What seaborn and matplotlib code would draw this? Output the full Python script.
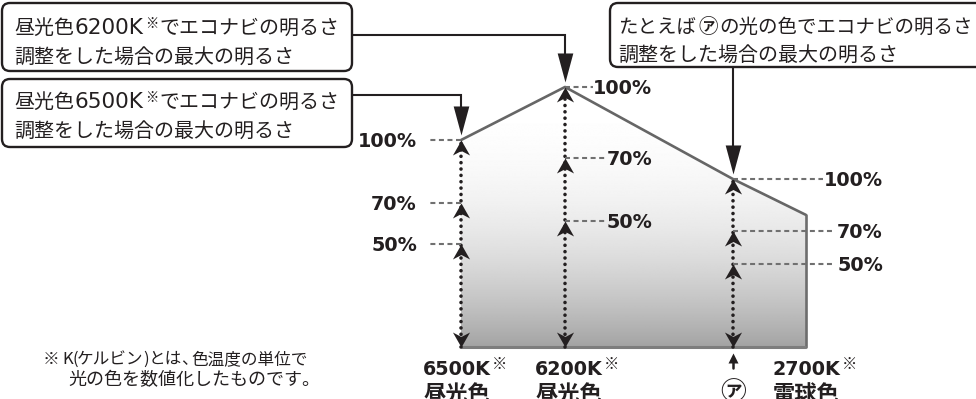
import numpy as np
import pandas as pd
import seaborn as sns
import matplotlib
matplotlib.use("Agg")
import matplotlib.pyplot as plt
from matplotlib.path import Path
from matplotlib.patches import FancyBboxPatch, Polygon
from matplotlib.transforms import Affine2D

# ---------------- data ----------------
columns = ["6500K", "6200K", "ア", "2700K"]
col_names = ["昼光色", "昼光色", "", "電球色"]
col_pos = [0.0, 1.0, 2.615, 3.317]          # schematic colour-temperature axis
max_bright = [79.6, 100.0, 64.6, 50.8]      # relative max brightness
level_labels = ["100%", "70%", "50%"]
levels_6500 = [79.6, 55.4, 39.6]
levels_6200 = [100.0, 72.7, 48.5]
levels_a = [64.6, 44.6, 31.9]

box1_lines = ["昼光色", "6200K", "※", "でエコナビの明るさ", "調整をした場合の最大の明るさ"]
box2_lines = ["昼光色", "6500K", "※", "でエコナビの明るさ", "調整をした場合の最大の明るさ"]
box3_lines = ["たとえば", "㋐", "の光の色でエコナビの明るさ", "調整をした場合の最大の明るさ"]
note_pieces = ["※", "K", "(", "ケルビン", ")", "とは", "、", "色温度の単位で"]
note_line2 = "光の色を数値化したものです。"

# ---------------- setup ----------------
W, H = 976, 399
sns.set_theme(style="white")
FAM = ["Noto Sans CJK JP", "DejaVu Sans"]
plt.rcParams["font.family"] = FAM
INK = "#231f20"

fig = plt.figure(figsize=(W / 100, H / 100), dpi=100)
ax = fig.add_axes([0, 0, 1, 1])
XL = (-461 / 104, 515 / 104)
YL = (-20, 347 / 2.6)
ax.set_xlim(*XL)
ax.set_ylim(*YL)
ax.axis("off")
PX = Affine2D().scale(1, -1).translate(0, H)   # top-left pixel coordinates


def d2p(x, y):
    dx, dy = ax.transData.transform((x, y))
    return dx, H - dy


# arrowhead marker shapes (tip at origin)
C = [Path.MOVETO, Path.LINETO, Path.LINETO, Path.LINETO, Path.CLOSEPOLY]
up_small = Path([(0, 0), (0.57, -1), (0, -0.7), (-0.57, -1), (0, 0)], C)
down_small = Path([(0, 0), (0.57, 1), (0, 0.7), (-0.57, 1), (0, 0)], C)
C3 = [Path.MOVETO, Path.LINETO, Path.LINETO, Path.CLOSEPOLY]
down_big = Path([(0, 0), (0.27, 1), (-0.27, 1), (0, 0)], C3)
up_tri = Path([(0, 0), (0.5, -1), (-0.5, -1), (0, 0)], C3)

# ---------------- gradient area ----------------
poly = list(zip(col_pos, max_bright)) + [(col_pos[-1], 0), (col_pos[0], 0)]
clip = Polygon(poly, closed=True, transform=ax.transData, facecolor="none", edgecolor="none")
ax.add_patch(clip)
t = np.linspace(0, 1, 400)[:, None]
grad = 1 - 0.36 * t ** 2.3
im = ax.imshow(grad, cmap="gray", vmin=0, vmax=1, aspect="auto",
               extent=(col_pos[0], col_pos[-1], 0, max(max_bright)),
               interpolation="bilinear", zorder=1)
im.set_clip_path(clip)
ax.set_xlim(*XL)
ax.set_ylim(*YL)

# outline
sns.lineplot(x=col_pos, y=max_bright, sort=False, estimator=None, color="#666666",
             linewidth=1.9, ax=ax, zorder=3)
ax.plot([col_pos[-1], col_pos[-1]], [max_bright[-1], 0], color="#6d6d6d", lw=1.9, zorder=3)
ax.plot([col_pos[0], col_pos[-1]], [0, 0], color="#7d7d7d", lw=2.2, zorder=3,
        solid_capstyle="butt")

# dotted verticals + arrowheads
level_sets = [levels_6500, levels_6200, levels_a]
for i, lv in enumerate(level_sets):
    x = col_pos[i]
    ax.plot([x, x], [0, max_bright[i]], color=INK, lw=2.6, linestyle=(0, (0.01, 1.75)),
            dash_capstyle="round", zorder=4)
    ax.plot([x] * len(lv), lv, linestyle="none", marker=up_small, ms=21.6,
            color=INK, markeredgewidth=0, zorder=5)
    ax.plot([x], [0], linestyle="none", marker=down_small, ms=21.6,
            color=INK, markeredgewidth=0, zorder=5)

# level dashed lines and labels
spec = [(0, [427, 427, 427], 417), (1, [593, 605, 605], 652), (2, [823, 835, 835], 883)]
for (i, ends, lab_x) in spec:
    for k, v in enumerate(level_sets[i]):
        cx, cy = d2p(col_pos[i], v)
        ax.plot([cx, ends[k]], [cy, cy], transform=PX, color="#707070", lw=1.5,
                linestyle=(0, (2.4, 1.7)), zorder=4)
        ax.text(lab_x, cy + 7, level_labels[k], transform=PX, ha="right", va="baseline",
                fontsize=13.8, fontweight="bold", family="DejaVu Sans", color=INK, zorder=8)

renderer = fig.canvas.get_renderer()


def run(x, y, pieces, gap=1.0):
    cx = x
    for s, props, dy in pieces:
        tt = ax.text(cx, y + dy, s, transform=PX, ha="left", va="baseline", color=INK,
                     zorder=8, **props)
        bb = tt.get_window_extent(renderer)
        cx += bb.width + gap
    return cx


cjk14 = dict(fontsize=14.4, family=FAM)
cjk3 = dict(fontsize=14.0, family=FAM)
circ_b = dict(fontsize=14.0, family=FAM, fontweight="bold")
num_reg = dict(fontsize=15.5, family="DejaVu Sans")
kome_s = dict(fontsize=9.6, family=FAM)

# ---------------- callout boxes ----------------
def box(x0, y0, x1, y1):
    ax.add_patch(FancyBboxPatch((x0, y0), x1 - x0, y1 - y0,
                                boxstyle="round,pad=0,rounding_size=8", transform=PX,
                                facecolor="white", edgecolor=INK, lw=1.7, zorder=6))


box(2, 3, 352, 71)
run(14, 34, [(box1_lines[0], cjk14, 0), (box1_lines[1], num_reg, 0),
             (box1_lines[2], kome_s, -6.5), (box1_lines[3], cjk14, 0)])
run(14, 63, [(box1_lines[4], cjk14, 0)])

box(2, 79, 352, 147)
run(14, 108, [(box2_lines[0], cjk14, 0), (box2_lines[1], num_reg, 0),
              (box2_lines[2], kome_s, -6.5), (box2_lines[3], cjk14, 0)])
run(14, 137, [(box2_lines[4], cjk14, 0)])

box(610, 3, 985, 67)
run(618, 33, [(box3_lines[0], cjk3, 0), (box3_lines[1], circ_b, 0), (box3_lines[2], cjk3, 0)],
    gap=2.0)
run(618, 61, [(box3_lines[3], cjk14, 0)])

# connectors
def connector(pts, col):
    tx, ty = d2p(col_pos[col], max_bright[col])
    tip = ty - 5
    xs = [p[0] for p in pts] + [tx, tx]
    ys = [p[1] for p in pts] + [pts[-1][1], tip - 20]
    ax.plot(xs, ys, transform=PX, color=INK, lw=1.5, zorder=6, solid_joinstyle="miter")
    ax.plot([tx], [tip], transform=PX, marker=down_big, ms=41.8, color=INK,
            markeredgewidth=0, linestyle="none", zorder=6)


connector([(352, 35)], 1)
connector([(352, 95)], 0)
ax_, _ = d2p(col_pos[2], 0)
connector([(ax_, 67)], 2)

# ---------------- bottom labels ----------------
num_bold = dict(fontsize=13.8, family="DejaVu Sans", fontweight="bold")
kome_b = dict(fontsize=11, family=FAM)
name_b = dict(fontsize=16, family=FAM, fontweight="bold")
label_left = {0: 423, 1: 535, 3: 773}
for i, lx in label_left.items():
    run(lx, 375, [(columns[i], num_bold, 0), ("※", kome_b, -6)])
    ax.text(lx, 401, col_names[i], transform=PX, ha="left", va="baseline", color=INK,
            zorder=8, **name_b)

# ア marker under axis
axp, byp = d2p(col_pos[2], 0)
ax.plot([axp, axp], [368, 358], transform=PX, color=INK, lw=1.8, zorder=6)
ax.plot([axp], [353], transform=PX, marker=up_tri, ms=14.4, color=INK,
        markeredgewidth=0, linestyle="none", zorder=6)
ax.text(axp, 400, "㋐", transform=PX, ha="center", va="baseline", color=INK,
        fontsize=18.5, family=FAM, fontweight="bold", zorder=8)

# footnote
note_font = dict(fontsize=12, family=FAM)
note_x = [43, 62, 72, 77, 143, 149, 181, 191]
for s, x in zip(note_pieces, note_x):
    ax.text(x, 364, s, transform=PX, ha="left", va="baseline", color=INK, zorder=8, **note_font)
ax.text(68, 385, note_line2, transform=PX, ha="left", va="baseline", color=INK,
        fontsize=13, family=FAM, zorder=8)

fig.savefig("out.png", dpi=100)
